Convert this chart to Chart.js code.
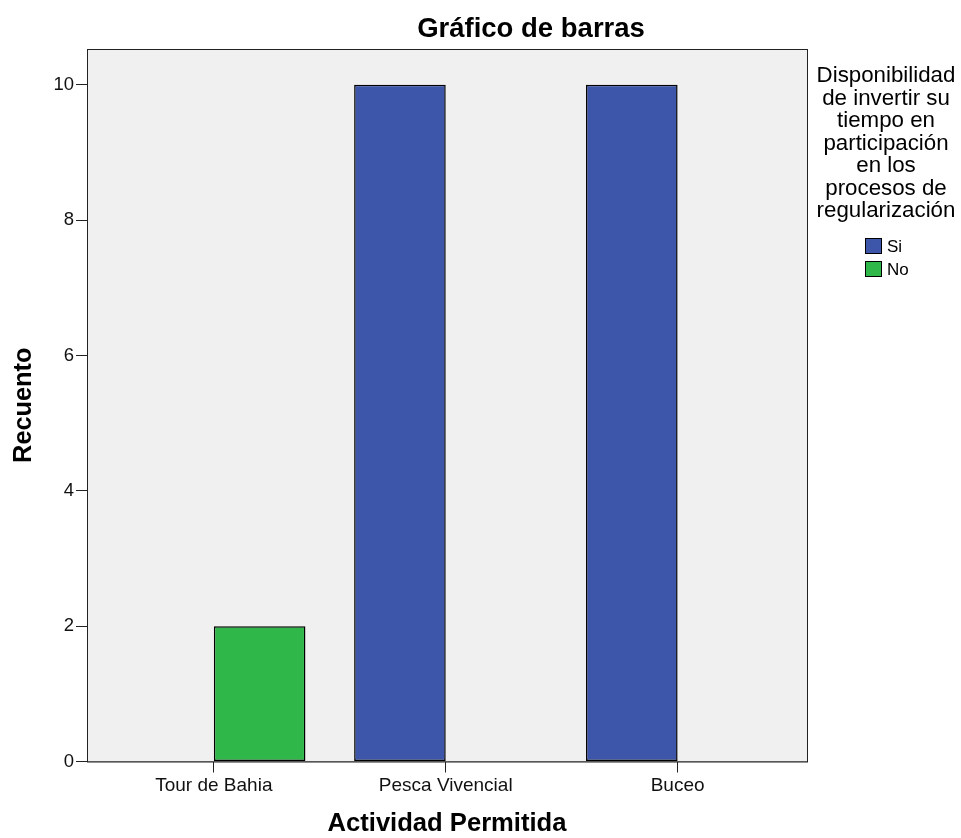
<!DOCTYPE html>
<html>
<head>
<meta charset="utf-8">
<script src="https://cdn.jsdelivr.net/npm/chart.js@4/dist/chart.umd.min.js"></script>
<style>
  body { margin: 0; background: #fff; }
  #wrap { width: 961px; height: 838px; }
</style>
</head>
<body>
<div id="wrap"><canvas id="myChart" width="961" height="838"></canvas></div>
<script>
// data
const categories = ['Tour de Bahia', 'Pesca Vivencial', 'Buceo'];
const valuesSi = [0, 10, 10];
const valuesNo = [2, 0, 0];
const yTicks = [0, 2, 4, 6, 8, 10];
const legendTitle = ['Disponibilidad', 'de invertir su', 'tiempo en', 'participación', 'en los', 'procesos de', 'regularización'];

const FONT = "'Liberation Sans', Arial, sans-serif";

// grey plot background + frame, title and legend drawn by hand
const spssLook = {
    id: 'spssLook',
    beforeDatasetsDraw(chart) {
        const { ctx, chartArea: a } = chart;
        ctx.save();
        ctx.fillStyle = '#f0f0f0';
        ctx.fillRect(a.left, a.top, a.right - a.left, a.bottom - a.top);
        ctx.restore();
    },
    afterDraw(chart) {
        const { ctx, chartArea: a } = chart;
        ctx.save();
        ctx.strokeStyle = '#222';
        ctx.lineWidth = 1;
        ctx.strokeRect(a.left + 0.5, a.top + 0.5, a.right - a.left, a.bottom - a.top);

        // title
        ctx.fillStyle = '#000';
        ctx.font = 'bold 27.5px ' + FONT;
        ctx.textAlign = 'center';
        ctx.textBaseline = 'middle';
        ctx.fillText('Gráfico de barras', 531, 29);

        // legend title
        ctx.font = '22.3px ' + FONT;
        ctx.textBaseline = 'alphabetic';
        legendTitle.forEach((t, i) => ctx.fillText(t, 886, 82 + i * 22.5));

        // legend items
        ctx.textAlign = 'left';
        ctx.font = '17px ' + FONT;
        chart.data.datasets.forEach((ds, i) => {
            const y = 238 + i * 23;
            ctx.fillStyle = ds.backgroundColor;
            ctx.fillRect(865, y, 16, 15);
            ctx.strokeStyle = '#000';
            ctx.strokeRect(865.5, y + 0.5, 16, 15);
            ctx.fillStyle = '#000';
            ctx.fillText(ds.label, 887, y + 14);
        });
        ctx.restore();
    }
};

const canva = document.getElementById('myChart').getContext('2d');

const myChart = new Chart(canva, {
    type: 'bar',
    data: {
        datasets: [{
            label: 'Si',
            data: categories.map((c, i) => ({ x: i, y: valuesSi[i] })),
            backgroundColor: '#3d56aa',
            borderColor: '#000',
            borderWidth: 1.5,
            borderSkipped: false
        }, {
            label: 'No',
            data: categories.map((c, i) => ({ x: i, y: valuesNo[i] })),
            backgroundColor: '#2fb74a',
            borderColor: '#000',
            borderWidth: 1.5,
            borderSkipped: false
        }]
    },
    options: {
        responsive: false,
        animation: false,
        layout: { padding: { top: 49, right: 154, left: 0, bottom: 0 } },
        datasets: { bar: { categoryPercentage: 0.79, barPercentage: 1 } },
        plugins: {
            legend: { display: false },
            tooltip: { enabled: false }
        },
        scales: {
            x: {
                type: 'linear',
                min: -0.547,
                max: 2.558,
                offset: false,
                afterBuildTicks: s => { s.ticks = categories.map((c, i) => ({ value: i })); },
                afterFit: s => { s.height = 76.5; },
                grid: { offset: false, drawOnChartArea: false, drawTicks: true, tickLength: 11, color: '#222' },
                border: { display: true, color: '#222' },
                ticks: {
                    color: '#111',
                    padding: 2,
                    font: { family: FONT, size: 19 },
                    callback: v => categories[v]
                },
                title: {
                    display: true,
                    text: 'Actividad Permitida',
                    color: '#000',
                    font: { family: FONT, size: 25.6, weight: 'bold', lineHeight: 1 },
                    padding: { top: 0, bottom: 1 }
                }
            },
            y: {
                min: 0,
                max: 10.53,
                afterBuildTicks: s => { s.ticks = yTicks.map(v => ({ value: v })); },
                afterFit: s => { s.width = 87; },
                grid: { drawOnChartArea: false, drawTicks: true, tickLength: 11, color: '#222' },
                border: { display: true, color: '#222' },
                ticks: {
                    color: '#111',
                    padding: 2,
                    font: { family: FONT, size: 18.5 }
                },
                title: {
                    display: true,
                    text: 'Recuento',
                    color: '#000',
                    font: { family: FONT, size: 25.3, weight: 'bold', lineHeight: 1 },
                    padding: { top: 11, bottom: 0 }
                }
            }
        }
    },
    plugins: [spssLook]
});
</script>
</body>
</html>
